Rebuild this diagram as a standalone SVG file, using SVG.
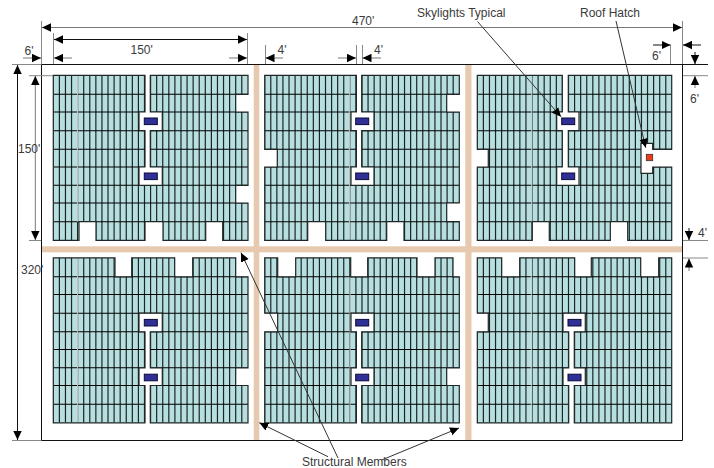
<svg xmlns="http://www.w3.org/2000/svg" xmlns:xlink="http://www.w3.org/1999/xlink" width="714" height="468" viewBox="0 0 714 468">
<style>
text{font-family:"Liberation Sans",Arial,sans-serif;font-size:12px;fill:#3a3a3a}
.sil{fill:#b8dfe0;stroke:none}
.edge{fill:none;stroke:#1e2626;stroke-width:1.2}
.v{fill:none;stroke:#1c2424;stroke-width:1.2}
.h{fill:none;stroke:#000;stroke-width:1.05}
.seam{stroke:#fff;stroke-width:.9;opacity:.9}
.sky{fill:#2f2f96;stroke:#0a0a3a;stroke-width:1}
.hatch{fill:#ee3b16;stroke:#333;stroke-width:.8}
.beam{fill:#e6c9ae}
.frame{fill:none;stroke:#111;stroke-width:1}
.ext{fill:none;stroke:#888;stroke-width:1}
.dk{fill:none;stroke:#111;stroke-width:1;}
.gr{fill:none;stroke:#777;stroke-width:1}
.ld{fill:none;stroke:#333;stroke-width:1}
.a1{marker-end:url(#ah)}
.a2{marker-start:url(#ah);marker-end:url(#ah)}
</style>
<defs>
<marker id="ah" markerUnits="userSpaceOnUse" markerWidth="10" markerHeight="9" viewBox="0 0 10 9" refX="9" refY="4.5" orient="auto-start-reverse"><path d="M0 0.3L9 4.5L0 8.7Z" fill="#000"/></marker>
<g id="grid">
<path class="v" d="M0 0v165m6.08-165v165m6.08-165v165m6.08-165v165m6.08-165v165m6.08-165v165m6.08-165v165m6.08-165v165m6.08-165v165m6.08-165v165m6.08-165v165m6.08-165v165m6.08-165v165m6.08-165v165m6.08-165v165m6.08-165v165m6.08-165v165m6.08-165v165m6.08-165v165m6.08-165v165m6.08-165v165m6.08-165v165m6.08-165v165m6.08-165v165m6.08-165v165m6.08-165v165m6.08-165v165m6.08-165v165m6.08-165v165m6.08-165v165m6.08-165v165m6.08-165v165"/>
<path class="h" d="M0 19H195M0 36.7H195M0 55.4H195M0 74H195M0 91.7H195M0 110H195M0 127.7H195M0 146.4H195"/>
</g>
<path id="s1" d="M0 0H91.7V36.7H85.7V55.4H91.7V91.7H85.7V110H109V91.7H97V55.4H109V36.7H97V0H194.7V19H182.4V36.7H194.7V110H182.4V127.7H194.7V165H169.4V146.4H152.4V165H109.7V146.4H91.7V165H42.7V146.4H25.7V165H0Z"/>
<path id="s2" d="M0 0H91.7V36.7H86.3V55.4H91.7V91.7H86.3V110H109.3V91.7H97V55.4H109.3V36.7H97V0H194.6V19H182V36.7H194.6V127.7H182V146.4H194.6V165H139.3V146.4H122V165H61V146.4H43V165H0V91.7H12.6V74H0Z"/>
<path id="s3" d="M0 0H85V36.7H79.4V55.4H85V91.7H79.4V110H101.7V91.7H91V55.4H101.7V36.7H91V0H194.4V74H175.4V68H163.7V98H175.4V91.7H194.4V165H150.4V146.4H133V165H72V146.4H55V165H0V91.7H11V74H0Z"/>
<path id="s4" d="M0 0H61.7V19H78.4V0H121.4V19H139.4V0H182.4V19H194.7V110H182.4V127.7H194.7V165H97V127.7H109V110H97V74H109V55.4H85.7V74H91.7V110H85.7V127.7H91.7V165H0Z"/>
<path id="s5" d="M0 0H13V19H31V0H86V19H103V0H152.3V19H170.3V0H188.3V19H194.6V110H182V127.7H194.6V165H97V127.7H109.3V110H97V74H109.3V55.4H86.3V74H91.7V110H86.3V127.7H91.7V165H0V74H13V55.4H0Z"/>
<path id="s6" d="M0 0H24.4V19H42.4V0H97.4V19H114V0H163.4V19H181.4V0H194.4V165H97V127.7H108V110H97V74H108V55.4H85.7V74H91.4V110H85.7V127.7H91.4V165H0V74H11V55.4H0Z"/>
<clipPath id="c1"><use href="#s1"/></clipPath>
<clipPath id="c2"><use href="#s2"/></clipPath>
<clipPath id="c3"><use href="#s3"/></clipPath>
<clipPath id="c4"><use href="#s4"/></clipPath>
<clipPath id="c5"><use href="#s5"/></clipPath>
<clipPath id="c6"><use href="#s6"/></clipPath>
</defs>
<rect width="714" height="468" fill="#fff"/>
<g id="building">
<rect class="beam" x="253.7" y="64" width="5.6" height="376"/>
<rect class="beam" x="465.3" y="64" width="6.2" height="376"/>
<rect class="beam" x="41" y="246.3" width="641" height="6"/>
<path class="frame" d="M41.5 64.5H708M41.5 64.5V440.5H682.5V64.5"/>
</g>
<g id="panel-1" transform="translate(53.3 75.3)">
<use href="#s1" class="sil"/><g clip-path="url(#c1)"><use href="#grid"/><path class="seam" d="M24.3 0V146.4"/></g><use href="#s1" class="edge"/>
<rect class="sky" x="91" y="42.7" width="13" height="6.6"/><rect class="sky" x="91" y="97.7" width="13" height="6.6"/>
</g>
<g id="panel-2" transform="translate(264.7 75.3)">
<use href="#s2" class="sil"/><g clip-path="url(#c2)"><use href="#grid"/><path class="seam" d="M85 0V165"/></g><use href="#s2" class="edge"/>
<rect class="sky" x="91" y="42.7" width="13" height="6.6"/><rect class="sky" x="91" y="97.7" width="13" height="6.6"/>
</g>
<g id="panel-3" transform="translate(477.3 75.3)">
<use href="#s3" class="sil"/><g clip-path="url(#c3)"><use href="#grid"/><path class="seam" d="M54.4 0V146.4"/></g><use href="#s3" class="edge"/>
<rect class="sky" x="84.4" y="42.7" width="13" height="6.6"/><rect class="sky" x="84.4" y="97.7" width="13" height="6.6"/>
<rect class="hatch" x="169" y="79" width="6.4" height="6.4"/>
</g>
<g id="panel-4" transform="translate(53.3 257.8)">
<use href="#s4" class="sil"/><g clip-path="url(#c4)"><use href="#grid"/><path class="seam" d="M24.3 0V165"/></g><use href="#s4" class="edge"/>
<rect class="sky" x="91" y="61.6" width="13" height="6.6"/><rect class="sky" x="91" y="116.4" width="13" height="6.6"/>
</g>
<g id="panel-5" transform="translate(264.7 257.8)">
<use href="#s5" class="sil"/><g clip-path="url(#c5)"><use href="#grid"/><path class="seam" d="M85.3 19V165"/></g><use href="#s5" class="edge"/>
<rect class="sky" x="91" y="61.6" width="13" height="6.6"/><rect class="sky" x="91" y="116.4" width="13" height="6.6"/>
</g>
<g id="panel-6" transform="translate(477.3 257.8)">
<use href="#s6" class="sil"/><g clip-path="url(#c6)"><use href="#grid"/><path class="seam" d="M54 0V165"/></g><use href="#s6" class="edge"/>
<rect class="sky" x="90.7" y="61.6" width="13" height="6.6"/><rect class="sky" x="90.7" y="116.4" width="13" height="6.6"/>
</g>
<g id="connectors">
<path class="ext" d="M41.5 21V64M682.5 21V64M53.5 33V64M247.5 33V64M265.5 45V64M356.5 45V64M362.5 45V64M670.5 45V64M12 64.5H41M12 440.5H41M29 75.7H53M29 240.5H41M683 75.7H708M683 240.5H708M683 258H708"/>
<path class="gr a2" d="M42 27.5H682"/>
<path class="dk a2" d="M54 39.5H247"/>
<path class="gr a1" d="M72 58H54"/>
<path class="gr a1" d="M229 58H247"/>
<path class="gr a1" d="M23 58H41"/>
<path class="gr a1" d="M283 58H265.5"/>
<path class="gr a1" d="M338 58H356"/>
<path class="gr a1" d="M381 58H362.5"/>
<path class="dk a1" d="M653 45H670.5"/>
<path class="dk a1" d="M701 45H683"/>
<path class="dk a1" d="M695 52V64"/>
<path class="gr a1" d="M695 88V76"/>
<path class="dk a1" d="M689 228V240"/>
<path class="gr a1" d="M689 271V258.5"/>
<path class="dk a2" d="M17.5 65V440"/>
<path class="gr a2" d="M35.3 76V240"/>
<path class="ld a1" d="M477.5 21.5L561 116.7"/>
<path class="ld a1" d="M616 21L645.7 147.7"/>
<path class="ld a1" d="M338 458L241 252.7"/>
<path class="ld a1" d="M328 456.7L259.3 422.7"/>
<path class="ld a1" d="M381.7 460L459 428"/>
</g>
<g id="labels">
<text x="352" y="25">470'</text>
<text x="130.5" y="54">150'</text>
<text x="24.5" y="55">6'</text>
<text x="277.5" y="54">4'</text>
<text x="374" y="54">4'</text>
<text x="652" y="60">6'</text>
<text x="690" y="103">6'</text>
<text x="698" y="237">4'</text>
<text x="18" y="153">150'</text>
<text x="21" y="274">320'</text>
<text x="417" y="17">Skylights Typical</text>
<text x="580" y="17">Roof Hatch</text>
<text x="302" y="466">Structural Members</text>
</g>
</svg>
